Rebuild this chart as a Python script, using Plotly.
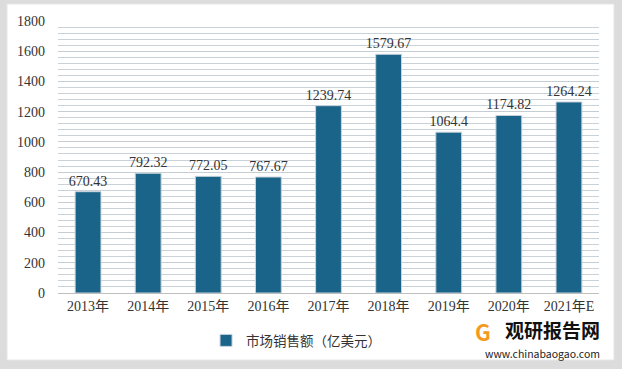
import plotly.graph_objects as go

categories = ["2013年", "2014年", "2015年", "2016年", "2017年", "2018年", "2019年", "2020年", "2021年E"]
values = [670.43, 792.32, 772.05, 767.67, 1239.74, 1579.67, 1064.4, 1174.82, 1264.24]
labels = ["670.43", "792.32", "772.05", "767.67", "1239.74", "1579.67", "1064.4", "1174.82", "1264.24"]
series_name = "市场销售额（亿美元）"
y_ticks = [0, 200, 400, 600, 800, 1000, 1200, 1400, 1600, 1800]

serif = "Liberation Serif, Noto Sans CJK SC, serif"
sans = "Noto Sans CJK SC, sans-serif"

fig = go.Figure()
fig.add_trace(go.Bar(
    x=categories, y=values, name=series_name,
    marker=dict(color="#1B6489", line=dict(color="#C9D3DC", width=1)),
    text=labels, textposition="outside", cliponaxis=False, constraintext="none",
    textfont=dict(family=serif, size=14, color="#333333"),
))

fig.update_layout(
    width=622, height=369,
    margin=dict(l=58, r=23, t=21, b=76, autoexpand=False),
    paper_bgcolor="#DCDCDC",
    plot_bgcolor="#ECF2F7",
    bargap=0.57,
    showlegend=True,
    legend=dict(orientation="h", x=0.44, xanchor="center", y=-0.175, yanchor="middle",
                font=dict(family=sans, size=13.5, color="#333333"),
                itemwidth=30, bgcolor="rgba(0,0,0,0)"),
    xaxis=dict(showgrid=False, showline=True, linecolor="#BFBFBF", automargin=False,
               tickfont=dict(family=serif, size=14, color="#333333"), ticks=""),
    yaxis=dict(range=[0, 1800], tickmode="array", tickvals=y_ticks, showgrid=True,
               gridcolor="#C5CDD5", gridwidth=1, zeroline=False, automargin=False,
               minor=dict(tickmode="linear", tick0=0, dtick=40, showgrid=True,
                          gridcolor="#C9D1D9", gridwidth=1),
               tickfont=dict(family=serif, size=14, color="#333333"), ticks="",
               ticklabelstandoff=12),
    shapes=[dict(type="rect", xref="paper", yref="paper",
                 x0=-51/541, x1=1 + 15/541, y0=-67/272, y1=1 + 17/272,
                 fillcolor="white", line=dict(color="#E6E6E6", width=1), layer="below")],
    annotations=[
        dict(text="<b>观研报告网</b>", xref="paper", yref="paper", x=1.006, y=-0.135,
             xanchor="right", yanchor="middle", showarrow=False,
             font=dict(family=sans, size=19, color="#111111")),
        dict(text="www.chinabaogao.com", xref="paper", yref="paper", x=1.006, y=-0.222,
             xanchor="right", yanchor="middle", showarrow=False,
             font=dict(family=sans, size=10.5, color="#222222")),
        dict(text="<b>G</b>", xref="paper", yref="paper", x=0.786, y=-0.14,
             xanchor="center", yanchor="middle", showarrow=False,
             font=dict(family=sans, size=22, color="#F39A1E")),
    ],
)

fig.write_html("out.html", config={"displayModeBar": False},
               post_script="document.body.style.margin='0';")
